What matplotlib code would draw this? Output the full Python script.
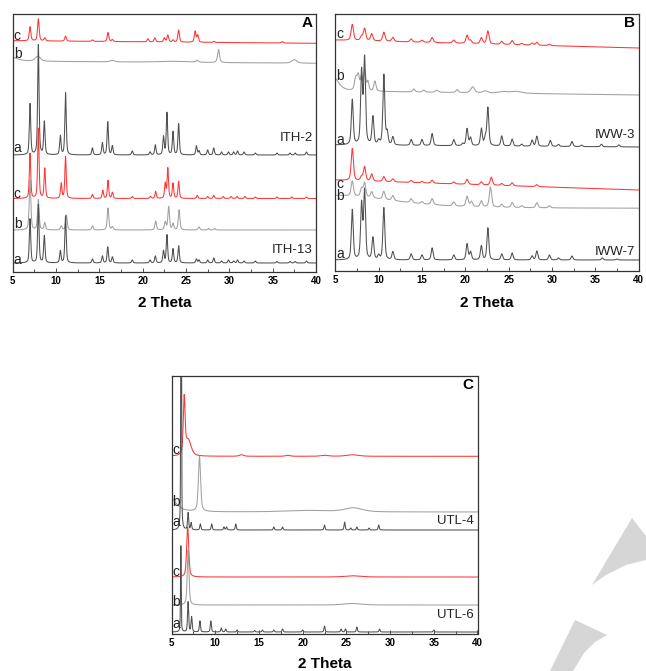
import numpy as np
import matplotlib
matplotlib.use('Agg')
import matplotlib.pyplot as plt
from matplotlib.patches import Polygon

plt.rcParams['font.family'] = ['Liberation Sans', 'DejaVu Sans']

# 2 theta grid shared by all patterns
two_theta = np.linspace(5, 40, 3501)

# ---------------- panel A : ITH ----------------
ith2_c_pos = [7.0, 7.96, 8.7, 11.1, 14.2, 16.0, 16.5, 20.6, 21.4, 22.5, 22.9, 23.5, 24.15, 26.05, 26.35, 28.2, 36.1]
ith2_c_int = [14, 22, 3, 5, 1.5, 9, 2, 3, 4, 4, 7, 2, 12, 11, 7, 1, 1.5]
ith2_c_hw = 0.11
ith2_c_base = [231, 228.4]

ith2_b_pos = [4.5, 7.9, 16.5, 23.5, 26.3, 28.75, 37.5]
ith2_b_int = [5, 5, 1.5, 1, 2, 13, 3.5]
ith2_b_hw = [1.0, 0.35, 0.3, 2.0, 0.15, 0.14, 0.35]
ith2_b_base = [210.5, 208.4]

ith2_a_pos = [7.0, 7.96, 8.65, 10.5, 11.1, 14.2, 15.35, 15.97, 16.5, 18.8, 20.85, 21.46, 22.4, 22.8,
              23.5, 24.15, 26.2, 26.5, 27.5, 28.2, 29.1, 29.9, 30.5, 30.95, 31.7, 33.0, 35.5, 37.0, 37.6, 38.9]
ith2_a_int = [51, 110, 33, 19, 62, 7, 12, 33, 9, 4, 3, 10, 18, 42,
              23, 31, 9, 4, 5, 7, 3, 3, 3, 4, 3, 2, 2, 2, 2, 3]
ith2_a_hw = 0.095
ith2_a_base = [116.7, 116.7]

ith13_c_pos = [7.0, 7.96, 8.7, 10.6, 11.1, 14.2, 15.4, 16.0, 16.5, 18.8, 20.9, 21.5, 22.6, 22.9,
               23.5, 24.15, 26.3, 27.5, 28.2, 29.3, 30.2, 30.9, 31.8, 33.0, 35.5, 37.2, 38.9]
ith13_c_int = [45, 70, 30, 15, 42, 4, 8, 18, 6, 2, 2, 7, 15, 30,
               15, 17, 3, 2, 3, 2, 2, 2, 2, 1.5, 1.5, 1.5, 1.5]
ith13_c_hw = 0.095
ith13_c_base = [73.2, 73.2]

ith13_b_pos = [7.0, 7.96, 8.7, 10.6, 11.2, 14.2, 16.0, 16.5, 21.5, 22.6, 23.0, 23.5, 24.2, 26.5, 27.6, 28.3]
ith13_b_int = [50, 30, 7, 4, 15, 4, 22, 3, 9, 8, 23, 6, 20, 3, 1.5, 1.5]
ith13_b_hw = 0.11
ith13_b_base = [41.7, 41.7]

ith13_a_pos = ith2_a_pos
ith13_a_int = [44, 58, 27, 12, 47, 4, 7, 16, 6, 3, 3, 7, 12, 28,
               14, 17, 4, 3, 3, 5, 2, 3, 2, 3, 2, 2, 1.5, 1.5, 1.5, 2]
ith13_a_hw = 0.095
ith13_a_base = [8.7, 8.7]

# ---------------- panel B : IWW ----------------
iww3_c_pos = [6.96, 8.03, 8.38, 9.2, 10.6, 11.64, 13.75, 15.0, 16.17, 18.67, 20.2, 20.6, 21.85, 22.6,
              24.2, 25.4, 26.5, 27.7, 28.25, 29.7]
iww3_c_int = [16, 4, 12, 7, 9, 4, 3, 2, 5, 3, 8, 3, 6, 13, 3, 4, 1.5, 2, 3, 1.5]
iww3_c_hw = 0.16
iww3_c_base = [231, 223]

iww3_b_pos = [4.6, 7.35, 7.65, 8.03, 8.4, 8.76, 9.57, 14.06, 15.2, 16.7, 19.05, 20.85, 22.3, 24.3, 25.8]
iww3_b_int = [16, 12, 15, 14, 20, 9, 10, 3, 2, 2, 3, 6, 2, 1.5, 2]
iww3_b_hw = [0.8, 0.16, 0.16, 0.13, 0.13, 0.13, 0.15, 0.16, 0.16, 0.2, 0.16, 0.25, 0.3, 0.5, 0.8]
iww3_b_base = [180, 176]

iww3_a_pos = [6.96, 8.03, 8.38, 9.34, 10.0, 10.6, 10.98, 11.64, 13.75, 15.0, 16.17, 18.67, 19.7, 20.2,
              20.6, 21.85, 22.3, 22.6, 24.2, 25.4, 26.5, 27.7, 28.25, 29.8, 30.75, 32.3, 33.4, 35.7, 37.7]
iww3_a_int = [45, 72, 85, 28, 4, 70, 12, 8, 6, 6, 12, 6, 2, 17,
              8, 17, 8, 38, 10, 7, 2, 6, 10, 6, 2, 5, 1.5, 2.5, 2]
iww3_a_hw = 0.13
iww3_a_base = [126, 124]

iww7_c_pos = [6.96, 8.03, 8.38, 9.2, 10.6, 11.64, 13.75, 15.0, 16.17, 18.67, 20.2, 21.85, 23.0, 24.2, 25.4, 28.25]
iww7_c_int = [32, 4, 14, 7, 5, 3, 2, 1.5, 3, 2, 5, 3, 8, 2, 3, 2]
iww7_c_hw = 0.15
iww7_c_base = [91, 81]

iww7_b_pos = [5.0, 6.96, 8.03, 8.38, 9.2, 10.6, 11.64, 13.75, 15.0, 16.17, 18.67, 20.2, 20.7, 21.85,
              22.9, 24.2, 25.4, 26.5, 28.25, 29.7]
iww7_b_int = [13, 15, 8, 14, 6, 8, 5, 4, 2, 6, 4, 10, 5, 6, 20, 3, 5, 2, 5, 2]
iww7_b_hw = [8.0] + [0.16] * 19
iww7_b_base = [62.5, 62.5]

iww7_a_pos = [6.96, 8.03, 8.38, 9.34, 10.0, 10.6, 11.64, 13.75, 15.0, 16.17, 18.67, 20.2, 20.6, 21.85,
              22.6, 24.2, 25.4, 27.7, 28.25, 29.7, 30.75, 32.3, 35.8, 37.5]
iww7_a_int = [50, 55, 68, 22, 4, 52, 8, 6, 5, 12, 5, 16, 8, 14,
              32, 6, 7, 4, 9, 5, 2, 4, 2, 1]
iww7_a_hw = 0.13
iww7_a_base = [11, 11]

# ---------------- panel C : UTL ----------------
utl4_c_pos = [6.45, 6.9, 13.0, 18.3, 22.5, 25.7]
utl4_c_int = [55, 16, 1.5, 1, 1, 1.5]
utl4_c_hw = [0.12, 0.4, 0.3, 0.3, 0.5, 0.8]
utl4_c_base = [178, 178]

utl4_b_pos = [4.5, 8.2, 20.5, 25.8]
utl4_b_int = [18, 55, 1.5, 4]
utl4_b_hw = [1.0, 0.15, 3.0, 1.2]
utl4_b_base = [122.3, 122.3]

utl4_a_pos = [6.1, 6.9, 7.25, 8.3, 9.6, 11.0, 11.3, 12.35, 16.7, 17.7, 22.5, 24.8, 25.5, 26.2, 27.6, 28.7]
utl4_a_int = [320, 17, 7, 6, 6, 3, 3, 6, 3, 3, 5, 8, 2, 3, 2, 5]
utl4_a_hw = [0.045] + [0.075] * 15
utl4_a_base = [104.3, 104.3]

utl6_c_pos = [6.85, 25.7]
utl6_c_int = [50, 1.2]
utl6_c_hw = [0.14, 1.0]
utl6_c_base = [57.3, 57.3]

utl6_b_pos = [6.9, 25.7]
utl6_b_int = [55, 1.5]
utl6_b_hw = [0.12, 1.2]
utl6_b_base = [29.3, 29.3]

utl6_a_pos = [6.07, 6.9, 7.3, 8.25, 9.5, 10.7, 11.2, 12.5, 14.5, 15.4, 16.7, 17.7, 20.0, 22.5, 24.4, 24.9, 26.2, 28.8, 35.0]
utl6_a_int = [86, 30, 15, 11, 11, 4, 3, 2, 1.5, 2, 2, 3, 2, 6, 3, 3, 5, 3, 2]
utl6_a_hw = [0.045] + [0.075] * 18
utl6_a_base = [2.3, 2.3]


def pattern(pos, inten, hw, base):
    """pseudo-Voigt peaks on a straight background"""
    hw = np.broadcast_to(np.asarray(hw, dtype=float), (len(pos),))
    y = np.linspace(base[0], base[1], two_theta.size)
    for p, h, w in zip(pos, inten, hw):
        d = (two_theta - p) / w
        y = y + h * (0.5 / (1 + d ** 2) + 0.5 * np.exp(-np.log(2) * d ** 2))
    return y


COL = {'a': '#505050', 'b': '#a0a0a0', 'c': '#ff3535'}

fig = plt.figure(figsize=(6.46, 6.71), dpi=100)

# faint watermark shapes (figure pixel coordinates)
W, H = 646.0, 671.0
for pts in ([(632, 518), (646, 536), (646, 560), (626, 565), (606, 575), (592, 585)],
            [(575, 620), (607, 635), (595, 642), (584, 653), (573, 671), (550, 671)]):
    fig.patches.append(Polygon([(x / W, 1 - y / H) for x, y in pts], closed=True,
                               transform=fig.transFigure, facecolor='#d6d6d6', edgecolor='none', zorder=0))

panels = [
    # rect, ylim top, letter, curves, group names
    ([12.7 / W, 1 - 271.7 / H, 303.3 / W, 258.2 / H], 258.2, 'A',
     [('c', ith2_c_pos, ith2_c_int, ith2_c_hw, ith2_c_base, 236.7),
      ('b', ith2_b_pos, ith2_b_int, ith2_b_hw, ith2_b_base, 218.7),
      ('a', ith2_a_pos, ith2_a_int, ith2_a_hw, ith2_a_base, 124.7),
      ('c', ith13_c_pos, ith13_c_int, ith13_c_hw, ith13_c_base, 78.7),
      ('b', ith13_b_pos, ith13_b_int, ith13_b_hw, ith13_b_base, 48.7),
      ('a', ith13_a_pos, ith13_a_int, ith13_a_hw, ith13_a_base, 13.7)],
     [('ITH-2', 133.7), ('ITH-13', 21.7)]),
    ([335.3 / W, 1 - 271.0 / H, 303.4 / W, 257.5 / H], 257.5, 'B',
     [('c', iww3_c_pos, iww3_c_int, iww3_c_hw, iww3_c_base, 238),
      ('b', iww3_b_pos, iww3_b_int, iww3_b_hw, iww3_b_base, 196),
      ('a', iww3_a_pos, iww3_a_int, iww3_a_hw, iww3_a_base, 133),
      ('c', iww7_c_pos, iww7_c_int, iww7_c_hw, iww7_c_base, 89),
      ('b', iww7_b_pos, iww7_b_int, iww7_b_hw, iww7_b_base, 76.5),
      ('a', iww7_a_pos, iww7_a_int, iww7_a_hw, iww7_a_base, 19)],
     [('IWW-3', 136), ('IWW-7', 19)]),
    ([171.5 / W, 1 - 634.3 / H, 306.0 / W, 258.3 / H], 258.3, 'C',
     [('c', utl4_c_pos, utl4_c_int, utl4_c_hw, utl4_c_base, 185.3),
      ('b', utl4_b_pos, utl4_b_int, utl4_b_hw, utl4_b_base, 133.3),
      ('a', utl4_a_pos, utl4_a_int, utl4_a_hw, utl4_a_base, 113.3),
      ('c', utl6_c_pos, utl6_c_int, utl6_c_hw, utl6_c_base, 63.3),
      ('b', utl6_b_pos, utl6_b_int, utl6_b_hw, utl6_b_base, 33.3),
      ('a', utl6_a_pos, utl6_a_int, utl6_a_hw, utl6_a_base, 12.3)],
     [('UTL-4', 113.3), ('UTL-6', 19.3)]),
]

for rect, ytop, letter, curves, names in panels:
    ax = fig.add_axes(rect)
    for tag, pos, inten, hw, base, ylab in curves:
        ax.plot(two_theta, pattern(pos, inten, hw, base), color=COL[tag], lw=0.75)
        ax.text(5.12, ylab, tag, fontsize=10, color='#222222', ha='left', va='center_baseline')
    for name, ylab in names:
        ax.text(39.6, ylab, name, fontsize=9.5, color='#222222', ha='right', va='center')
    ax.text(0.988, 0.992, letter, transform=ax.transAxes, ha='right', va='top',
            fontsize=11, fontweight='bold')
    ax.set_xlim(5, 40)
    ax.set_ylim(0, ytop)
    ax.set_yticks([])
    ax.set_xticks(np.arange(5, 41, 5), [str(v) for v in range(5, 41, 5)], fontweight='bold')
    ax.set_xticks(np.arange(7.5, 40, 5), minor=True)
    ax.tick_params(axis='x', which='both', direction='in', labelsize=7, pad=3,
                   width=0.6, color='#333333')
    ax.tick_params(axis='x', which='major', length=3)
    ax.tick_params(axis='x', which='minor', length=2.2)
    for sp in ax.spines.values():
        sp.set_linewidth(0.9)
        sp.set_color('#333333')
    cx = rect[0] + rect[2] / 2
    ylabel_y = rect[1] - 31.5 / H
    fig.text(cx, max(ylabel_y, 0.011), '2 Theta', ha='center', va='center',
             fontsize=11, fontweight='bold')

fig.savefig('out.png', dpi=100)
